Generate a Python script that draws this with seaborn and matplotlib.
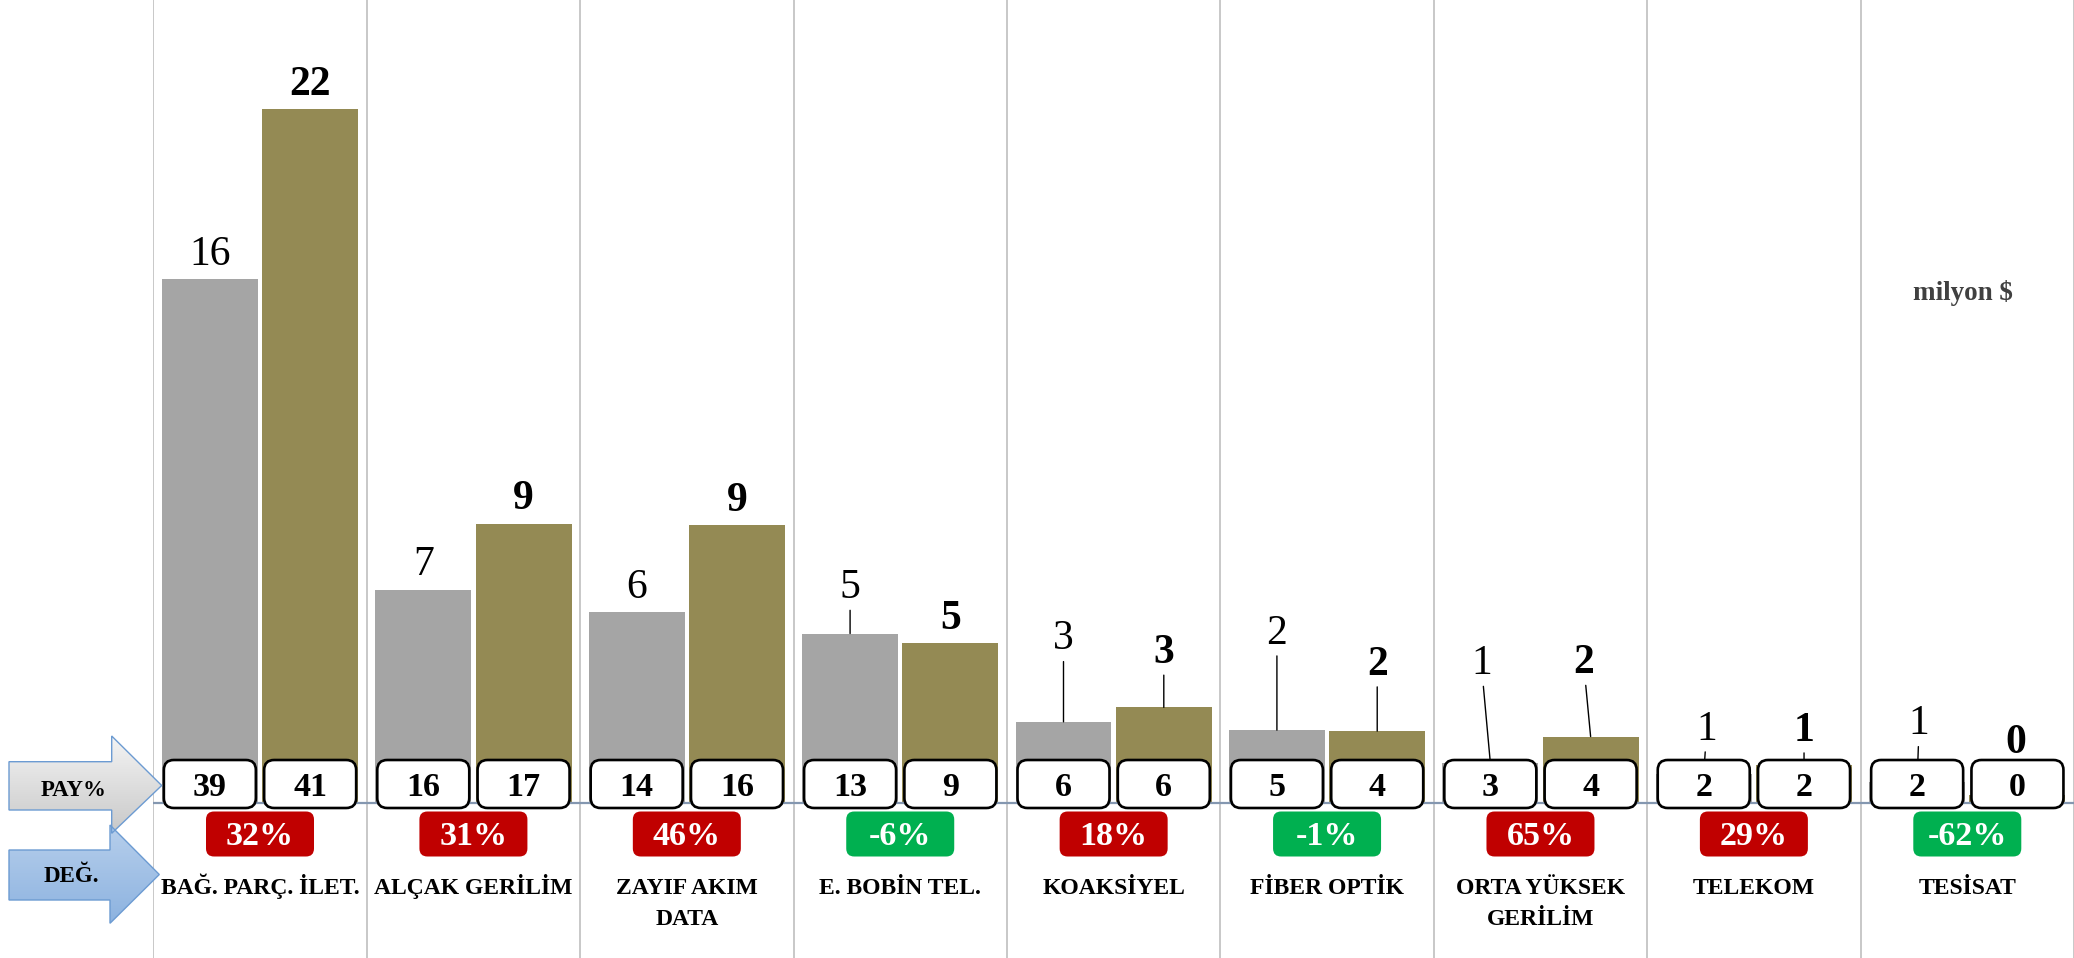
import numpy as np
import pandas as pd
import matplotlib
matplotlib.use("Agg")
import matplotlib.pyplot as plt
import seaborn as sns
from matplotlib.patches import FancyBboxPatch, Polygon

# ---------------------------------------------------------------- data
kategoriler = ["BAĞ. PARÇ. İLET.", "ALÇAK GERİLİM", "ZAYIF AKIM\nDATA", "E. BOBİN TEL.",
               "KOAKSİYEL", "FİBER OPTİK", "ORTA YÜKSEK\nGERİLİM", "TELEKOM", "TESİSAT"]
donemler = ["önceki dönem", "son dönem"]

# values in million $
onceki = [16.3, 6.63, 5.93, 5.27, 2.52, 2.26, 1.25, 0.89, 0.65]
son = [21.6, 8.69, 8.65, 4.98, 2.97, 2.23, 2.06, 1.17, 0.24]

# share (%) of each category in its period
pay_onceki = [39, 16, 14, 13, 6, 5, 3, 2, 2]
pay_son = [41, 17, 16, 9, 6, 4, 4, 2, 0]

# change between periods (%)
degisim = [32, 31, 46, -6, 18, -1, 65, 29, -62]

# ------------------------------------------------------- label styling
# value-label lift above bar top (px) and small horizontal nudges
lift = {0: [29, 29, 29, 50, 87, 101, 103, 49, 62],
        1: [29, 29, 29, 28, 59, 71, 78, 39, 56]}
nudge = {0: [0, 0, 0, 0, 0, 0, -9, 3, 2],
         1: [0, 0, 0, 0, 0, 0, -7, 0, -2]}

GRI = "#A5A5A5"
ZEYTIN = "#948A54"
KIRMIZI = "#C00000"
YESIL = "#00B050"

W, H, DPI = 2074, 958, 100
sns.set_theme(style="white")
plt.rcParams["font.family"] = ["Liberation Serif", "DejaVu Serif"]

fig = plt.figure(figsize=(W / DPI, H / DPI), dpi=DPI)
fig.patch.set_facecolor("white")
x0 = 153.3
ax = fig.add_axes([x0 / W, 0, 1 - x0 / W, 1])

df = pd.DataFrame({
    "kategori": kategoriler * 2,
    "dönem": [donemler[0]] * len(kategoriler) + [donemler[1]] * len(kategoriler),
    "değer": onceki + son,
})
sns.barplot(data=df, x="kategori", y="değer", hue="dönem", order=kategoriler,
            hue_order=donemler, palette=[GRI, ZEYTIN], saturation=1,
            width=0.94, gap=0.043, errorbar=None, legend=False,
            linewidth=0, ax=ax, zorder=2)

px_per_unit = 32.1
base_px = H - 802.7
ax.set_xlim(-0.5, len(kategoriler) - 0.5)
ax.set_ylim(-base_px / px_per_unit, (H - base_px) / px_per_unit)
ax.set_axis_off()

# category separators and baseline
for b in np.arange(-0.5, len(kategoriler) + 0.5):
    ax.axvline(b, color="#C4C4C4", lw=1.3, zorder=0)
ax.axhline(0, color="#8497B0", lw=1.6, zorder=3)

# value labels with leader lines for the small bars
seriler = (onceki, son)
bar_centres = {0: [None] * len(kategoriler), 1: [None] * len(kategoriler)}
for p in ax.patches:
    xc = p.get_x() + p.get_width() / 2
    i = int(round(xc))
    s = 0 if xc < i else 1
    bar_centres[s][i] = xc
    val = seriler[s][i]
    up = lift[s][i]
    arrow = None
    if up > 35:
        arrow = dict(arrowstyle="-", color="black", lw=1.0, shrinkA=0, shrinkB=0)
    ax.annotate(f"{val:.0f}", xy=(xc, val), xytext=(nudge[s][i], up - 14.5),
                textcoords="offset pixels", ha="center", va="baseline",
                fontsize=30, fontweight="bold" if s == 1 else "normal",
                color="black", arrowprops=arrow, zorder=4)

# overlay in pixel coordinates for boxes, arrows and captions
ov = fig.add_axes([0, 0, 1, 1], zorder=5)
ov.set_axis_off()
ov.patch.set_alpha(0)


def px(x_data):
    return ax.transData.transform((x_data, 0))[0]


pays = (pay_onceki, pay_son)
for s in (0, 1):
    for i in range(len(kategoriler)):
        cx = px(bar_centres[s][i])
        cy = H - 784
        ov.add_patch(FancyBboxPatch((cx - 46, cy - 24), 92, 48,
                                    boxstyle="round,pad=0,rounding_size=10",
                                    fc="white", ec="black", lw=1.9))
        ov.text(cx, cy - 11.5, f"{pays[s][i]}", ha="center", va="baseline",
                fontsize=24.5, fontweight="bold", color="black")

for i, d in enumerate(degisim):
    cx = px(i)
    cy = H - 834
    ov.add_patch(FancyBboxPatch((cx - 54, cy - 22.5), 108, 45,
                                boxstyle="round,pad=0,rounding_size=8",
                                fc=KIRMIZI if d > 0 else YESIL, ec="none"))
    ov.text(cx, cy - 11.3, f"{d}%", ha="center", va="baseline",
            fontsize=24.5, fontweight="bold", color="white")

for i, k in enumerate(kategoriler):
    for j, line in enumerate(k.split("\n")):
        ov.text(px(i), H - 894 - 30.7 * j, line, ha="center", va="baseline",
                fontsize=17, fontweight="bold", color="black")

ov.text(1963, H - 300, "milyon $", ha="center", va="baseline",
        fontsize=19.5, fontweight="bold", color="#404040")


def gradient_arrow(pts, top, bottom, label, text_xy):
    pts = [(x, H - y) for x, y in pts]
    poly = Polygon(pts, closed=True, fc="none", ec="#6C9BD2", lw=1.0, zorder=3)
    xs = [p[0] for p in pts]
    ys = [p[1] for p in pts]
    grad = np.linspace(0, 1, 64)[:, None, None]
    img = (1 - grad) * np.array(top)[None, None, :] + grad * np.array(bottom)[None, None, :]
    im = ov.imshow(img, extent=(min(xs), max(xs), min(ys), max(ys)),
                   origin="upper", aspect="auto", zorder=2, interpolation="bilinear")
    ov.add_patch(poly)
    im.set_clip_path(poly)
    ov.text(text_xy[0], H - text_xy[1], label, ha="center", va="baseline",
            fontsize=16.5, fontweight="bold", color="black", zorder=4)


def hex2rgb(h):
    h = h.lstrip("#")
    return [int(h[k:k + 2], 16) / 255 for k in (0, 2, 4)]


gradient_arrow([(9, 761.7), (111.7, 761.7), (111.7, 736), (161.7, 785.5),
                (111.7, 833.3), (111.7, 810), (9, 810)],
               hex2rgb("#F4F4F4"), hex2rgb("#C9C9C9"), "PAY%", (73.3, 795.8))
gradient_arrow([(9, 850), (110, 850), (110, 825), (159.3, 874.5),
                (110, 923.3), (110, 900), (9, 900)],
               hex2rgb("#B7CFEC"), hex2rgb("#8DB3E0"), "DEĞ.", (71.7, 882.5))

ov.set_xlim(0, W)
ov.set_ylim(0, H)

fig.savefig("out.png", dpi=DPI, facecolor="white")
